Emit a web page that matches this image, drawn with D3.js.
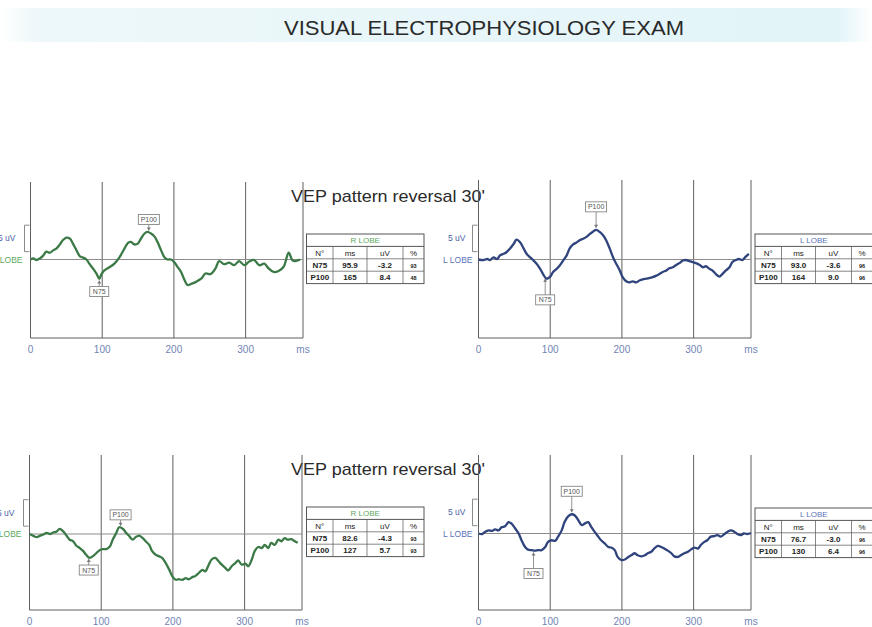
<!DOCTYPE html>
<html>
<head>
<meta charset="utf-8">
<script src="https://cdn.jsdelivr.net/npm/d3@7/dist/d3.min.js"></script>
<style>
  html, body { margin: 0; padding: 0; background: #fff; }
  svg { display: block; font-family: "Liberation Sans", Arial, sans-serif; }
</style>
</head>
<body>
<div id="chart"></div>
<script>
// ---- data ----
const title = "VISUAL ELECTROPHYSIOLOGY EXAM";
const examTitle = "VEP pattern reversal 30'";
const timeTicks = [0, 100, 200, 300];
const timeDomain = [0, 380];
const tableCols = ["N°", "ms", "uV", "%"];

// [ms, uV] – top row, right lobe
const traceR1 = [[0,0],[4,0.2],[8,-0.1],[13,0.2],[18,0.8],[22,1.5],[27,1.3],[32,1.8],[36,2.1],[41,2.9],[45,3.7],[50,4.2],[55,4.0],[59,3.1],[64,1.8],[69,0.6],[73,0.4],[78,0],[82,-0.8],[87,-1.7],[92,-2.7],[96,-3.7],[99,-2.8],[103,-2.1],[110,-1.5],[117,-0.8],[124,0.4],[131,2.1],[136,3.2],[140,3.4],[145,2.9],[150,3.1],[154,4.0],[159,5.0],[163,5.3],[168,5.0],[173,4.4],[177,3.4],[182,1.8],[187,0.4],[191,0],[196,0],[201,-0.6],[205,-1.4],[210,-2.4],[214,-3.7],[219,-4.9],[224,-4.7],[231,-4.3],[238,-3.7],[244,-2.7],[251,-2.8],[258,-1.7],[263,-0.3],[270,-0.9],[277,-0.6],[284,-1.1],[291,-0.3],[298,-1.1],[305,-0.4],[312,-0.1],[319,-1.1],[326,-0.8],[332,-1.7],[339,-2.4],[346,-2.2],[353,-1.4],[360,1.3],[365,-0.1],[369,-0.3],[376,0]];
// top row, left lobe
const traceL1 = [[0,0],[7,-0.1],[12,0.1],[16,-0.1],[21,0.4],[26,0.1],[30,0.8],[35,1.1],[39,1.4],[44,2.1],[49,3.0],[53,3.8],[58,3.3],[63,2.1],[67,1.1],[72,0.4],[76,-0.1],[81,-0.8],[86,-1.8],[90,-2.8],[95,-3.7],[100,-3.3],[104,-2.4],[109,-1.8],[113,-1.2],[118,-0.2],[123,0.8],[127,2.1],[132,2.9],[137,3.3],[141,3.7],[146,4.0],[151,4.4],[155,4.9],[160,5.4],[164,5.7],[169,5.3],[174,4.6],[178,3.7],[183,2.1],[188,0.3],[192,-0.8],[197,-2.1],[201,-3.4],[206,-4.2],[211,-4.4],[215,-4.2],[220,-4.4],[225,-4.0],[229,-3.8],[234,-3.7],[238,-3.6],[243,-3.4],[248,-3.1],[252,-2.8],[257,-2.4],[262,-2.1],[266,-1.7],[271,-1.5],[276,-1.0],[280,-0.7],[285,-0.2],[289,-0.1],[294,-0.3],[299,-0.5],[303,-0.7],[308,-1.0],[313,-1.5],[317,-1.3],[322,-1.8],[326,-2.1],[331,-2.8],[336,-3.3],[340,-2.8],[345,-2.1],[350,-1.5],[354,-0.5],[359,-0.1],[363,0.1],[368,-0.1],[373,0.6],[377,1.1]];
// bottom row, right lobe
const traceR2 = [[0,0],[6,-0.4],[10,-0.6],[15,-0.3],[19,-0.1],[24,0.2],[29,0],[33,0.3],[38,0.5],[42,1.0],[47,0.5],[52,-0.4],[56,-1.1],[61,-1.4],[65,-2.2],[70,-2.7],[75,-3.3],[79,-4.0],[84,-4.6],[89,-4.2],[93,-3.7],[98,-3.1],[102,-2.9],[107,-2.9],[112,-2.4],[116,-1.1],[121,0.2],[125,1.3],[130,1.0],[135,0.2],[139,-0.4],[144,-1.1],[148,-0.6],[153,-0.3],[158,-0.8],[162,-1.4],[167,-2.1],[171,-3.3],[176,-4.0],[181,-4.3],[185,-4.6],[190,-5.6],[195,-6.9],[199,-8.1],[204,-8.8],[208,-8.7],[213,-8.8],[218,-8.5],[222,-8.7],[227,-8.3],[231,-8.1],[236,-7.5],[241,-6.9],[245,-7.2],[250,-5.9],[254,-4.9],[259,-4.6],[264,-5.3],[268,-5.9],[273,-6.5],[277,-7.0],[282,-6.2],[287,-5.6],[291,-5.1],[296,-5.9],[301,-5.7],[305,-6.2],[310,-4.9],[314,-3.3],[319,-2.5],[324,-2.7],[328,-2.1],[333,-2.7],[337,-1.7],[342,-2.1],[347,-1.1],[351,-1.4],[356,-0.8],[360,-1.1],[365,-1.0],[370,-1.4],[374,-1.7]];
// bottom row, left lobe
const traceL2 = [[0,0],[5,-0.1],[9,0.3],[14,0.6],[19,0.5],[23,0.8],[28,0.6],[32,1.2],[37,1.4],[42,2.2],[46,1.9],[51,1.0],[56,0],[60,-1.3],[65,-2.6],[69,-3.1],[74,-3.2],[79,-3.3],[83,-3.2],[88,-3.2],[93,-2.6],[97,-1.6],[102,-1.3],[107,-1.4],[111,-0.6],[116,0.6],[120,2.2],[125,3.3],[130,3.7],[134,3.5],[139,2.6],[144,1.6],[148,1.9],[153,2.2],[157,1.3],[162,0.3],[167,-0.6],[171,-1.3],[176,-1.9],[181,-2.6],[185,-2.7],[190,-3.2],[194,-4.5],[199,-5.1],[204,-5.0],[208,-4.6],[213,-4.2],[218,-3.8],[222,-4.2],[227,-4.4],[232,-4.2],[236,-3.8],[241,-3.5],[245,-2.9],[250,-2.4],[255,-2.6],[259,-2.9],[264,-3.3],[269,-3.8],[273,-4.4],[278,-4.5],[282,-4.2],[287,-3.8],[292,-3.5],[296,-3.1],[301,-2.7],[306,-2.9],[310,-2.2],[315,-1.6],[319,-1.3],[324,-0.6],[329,-0.5],[333,-0.3],[338,-0.6],[343,-0.1],[347,0.3],[352,0.6],[357,0.3],[361,-0.1],[366,-0.3],[370,0],[375,-0.1],[380,0.1]];

// peak tables: [label, ms, uV, %]
const peaksR1 = [["N75", "95.9", "-3.2", "93"], ["P100", "165", "8.4", "48"]];
const peaksL1 = [["N75", "93.0", "-3.6", "96"], ["P100", "164", "9.0", "96"]];
const peaksR2 = [["N75", "82.6", "-4.3", "93"], ["P100", "127", "5.7", "93"]];
const peaksL2 = [["N75", "76.7", "-3.0", "96"], ["P100", "130", "6.4", "96"]];

// ---- layout ----
const width = 872, height = 627;
const green = "#3b7a47", blue = "#2f437c";

const panels = [
  {trace: traceR1, peaks: peaksR1, lobe: "R LOBE", color: green, labelColor: "#5ca85c", x0: 30.5, top: 182, bottom: 338, base: 259.5, tx: 306.5, ty: 234, gap: 8, lab: [15, 8]},
  {trace: traceL1, peaks: peaksL1, lobe: "L LOBE", color: blue, labelColor: "#5a72b8", x0: 478.5, top: 180, bottom: 338, base: 259.5, tx: 755, ty: 234, gap: 18, lab: [13, 6]},
  {trace: traceR2, peaks: peaksR2, lobe: "R LOBE", color: green, labelColor: "#5ca85c", x0: 29.5, top: 455, bottom: 610, base: 534, tx: 306.5, ty: 507, gap: 8, lab: [15, 8]},
  {trace: traceL2, peaks: peaksL2, lobe: "L LOBE", color: blue, labelColor: "#5a72b8", x0: 478.5, top: 455, bottom: 610, base: 533.5, tx: 755, ty: 508, gap: 18, lab: [13, 6]}
];

const svg = d3.select("#chart").append("svg")
    .attr("width", width)
    .attr("height", height)
    .attr("viewBox", [0, 0, width, height]);

// title band
const grad = svg.append("defs").append("linearGradient").attr("id", "band");
[["0%", "#ffffff"], ["4%", "#eef8fa"], ["50%", "#e8f6f9"], ["96%", "#e2f4f8"], ["100%", "#ffffff"]]
  .forEach(([o, c]) => grad.append("stop").attr("offset", o).attr("stop-color", c));
svg.append("rect").attr("x", 0).attr("y", 8).attr("width", width).attr("height", 34).attr("fill", "url(#band)");
svg.append("text")
    .attr("x", 484).attr("y", 35)
    .attr("text-anchor", "middle")
    .attr("font-size", 19.5)
    .attr("textLength", 400)
    .attr("lengthAdjust", "spacingAndGlyphs")
    .attr("fill", "#2a2a2a")
    .text(title);

// exam headings
[202, 475].forEach(yb => svg.append("text")
    .attr("x", 291).attr("y", yb)
    .attr("font-size", 17)
    .attr("textLength", 194)
    .attr("lengthAdjust", "spacingAndGlyphs")
    .attr("fill", "#2a2a2a")
    .text(examTitle));

function valueAt(trace, ms) {
  const i = d3.bisector(d => d[0]).left(trace, ms);
  if (i <= 0) return trace[0][1];
  if (i >= trace.length) return trace[trace.length - 1][1];
  const a = trace[i - 1], b = trace[i];
  return a[1] + (ms - a[0]) / (b[0] - a[0]) * (b[1] - a[1]);
}

panels.forEach(p => {
  const x = d3.scaleLinear(timeDomain, [p.x0, p.x0 + 272.5]);
  const y = d3.scaleLinear([-10, 10], [p.base + 52, p.base - 52]);
  const g = svg.append("g");

  // grid: vertical lines at ticks and right border, bottom line
  g.selectAll("line.v")
    .data(timeTicks.concat([timeDomain[1]]))
    .join("line")
      .attr("x1", d => x(d)).attr("x2", d => x(d))
      .attr("y1", p.top).attr("y2", p.bottom)
      .attr("stroke", "#5e5e5e").attr("stroke-width", 1);
  g.append("line")
      .attr("x1", x(0)).attr("x2", x(timeDomain[1]))
      .attr("y1", p.bottom).attr("y2", p.bottom)
      .attr("stroke", "#5e5e5e");
  // baseline
  g.append("line")
      .attr("x1", x(0)).attr("x2", x(timeDomain[1]))
      .attr("y1", y(0)).attr("y2", y(0))
      .attr("stroke", "#8c8c8c");

  // tick labels
  g.selectAll("text.tick")
    .data(timeTicks.map(String).concat(["ms"]))
    .join("text")
      .attr("x", (d, i) => x(i < timeTicks.length ? timeTicks[i] : timeDomain[1]))
      .attr("y", p.bottom + 15)
      .attr("text-anchor", "middle")
      .attr("font-size", 10)
      .attr("fill", "#7184b6")
      .text(d => d);

  // 5 uV calibration bracket + labels
  g.append("path")
      .attr("d", `M${p.x0 - 1},${y(6.6)}h-5V${y(1.5)}h5`)
      .attr("fill", "none").attr("stroke", "#8a8a8a");
  g.append("text")
      .attr("x", p.x0 - p.lab[0]).attr("y", y(3.5))
      .attr("text-anchor", "end")
      .attr("font-size", 8.5)
      .attr("fill", "#4a5fa8")
      .text("5 uV");
  g.append("text")
      .attr("x", p.x0 - p.lab[1]).attr("y", y(0) + 3)
      .attr("text-anchor", "end")
      .attr("font-size", 8.5)
      .attr("fill", p.labelColor)
      .text(p.lobe);

  // trace
  g.append("path")
      .datum(p.trace)
      .attr("fill", "none")
      .attr("stroke", p.color)
      .attr("stroke-width", 2.3)
      .attr("stroke-linejoin", "round")
      .attr("d", d3.line().x(d => x(d[0])).y(d => y(d[1])).curve(d3.curveCatmullRom));

  // peak markers
  p.peaks.forEach(([label, ms]) => {
    const px = x(+ms), py = y(valueAt(p.trace, +ms));
    const up = label === "P100";
    const bw = up ? 21 : 19, bh = 10;
    const by = up ? py - p.gap - bh : py + p.gap;
    const m = g.append("g");
    m.append("line")
        .attr("x1", px).attr("x2", px)
        .attr("y1", up ? by + bh : by).attr("y2", up ? py - 2 : py + 2)
        .attr("stroke", "#777").attr("stroke-width", 0.8);
    m.append("path")
        .attr("d", up ? `M${px - 2},${py - 5}L${px + 2},${py - 5}L${px},${py - 2}Z`
                      : `M${px - 2},${py + 5}L${px + 2},${py + 5}L${px},${py + 2}Z`)
        .attr("fill", "#777");
    m.append("rect")
        .attr("x", px - bw / 2).attr("y", by)
        .attr("width", bw).attr("height", bh)
        .attr("fill", "#fff").attr("stroke", "#777").attr("stroke-width", 0.8);
    m.append("text")
        .attr("x", px).attr("y", by + 7.5)
        .attr("text-anchor", "middle")
        .attr("font-size", 7)
        .attr("fill", "#555")
        .text(label);
  });

  // result table
  const colW = [26.5, 34, 36, 21];
  const colX = d3.cumsum([0].concat(colW)).map(v => p.tx + v);
  const rowH = 12.4;
  const tw = d3.sum(colW), th = rowH * 4;
  const t = svg.append("g").attr("font-size", 8);
  t.append("rect")
      .attr("x", p.tx).attr("y", p.ty).attr("width", tw).attr("height", th)
      .attr("fill", "#fff").attr("stroke", "#555");
  [1, 2, 3].forEach(r => t.append("line")
      .attr("x1", p.tx).attr("x2", p.tx + tw)
      .attr("y1", p.ty + r * rowH).attr("y2", p.ty + r * rowH)
      .attr("stroke", "#555").attr("stroke-width", r === 1 ? 1 : 0.7));
  colX.slice(1, 4).forEach(cx => t.append("line")
      .attr("x1", cx).attr("x2", cx)
      .attr("y1", p.ty + rowH).attr("y2", p.ty + th)
      .attr("stroke", "#555").attr("stroke-width", 0.7));
  t.append("text")
      .attr("x", p.tx + tw / 2).attr("y", p.ty + rowH - 3.2)
      .attr("text-anchor", "middle")
      .attr("fill", p.labelColor)
      .text(p.lobe);
  [tableCols].concat(p.peaks).forEach((row, r) => {
    row.forEach((v, c) => t.append("text")
        .attr("x", (colX[c] + colX[c + 1]) / 2)
        .attr("y", p.ty + (r + 2) * rowH - 3.2)
        .attr("text-anchor", "middle")
        .attr("font-size", c === 3 && r > 0 ? 5.5 : 8)
        .attr("font-weight", r > 0 ? "bold" : "normal")
        .attr("fill", "#222")
        .text(v));
  });
});
</script>
</body>
</html>
